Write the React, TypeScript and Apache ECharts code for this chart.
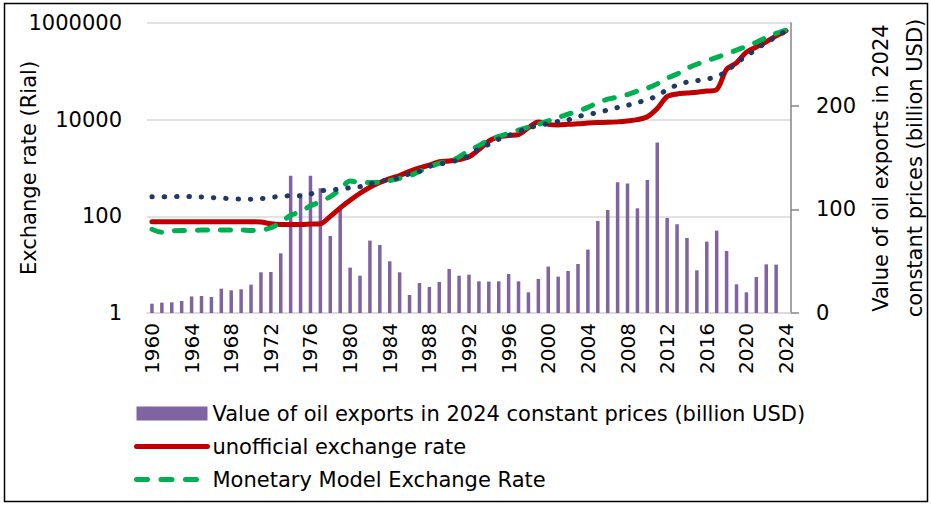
import React, { useEffect, useRef } from "react";
import * as echarts from "echarts";

const years: string[] = [];
for (let y = 1960; y <= 2024; y++) years.push(String(y));

const oilExports: (number | null)[] = [
  9, 10, 10.3, 11.6, 16, 16.4, 15.5, 23.5, 21.9, 22.9,
  27.4, 39.3, 39.6, 57.6, 132.4, 115.6, 132.4, 120.5, 74.4, 102,
  43.8, 36, 69.9, 65.7, 49.9, 39.3, 17.4, 29, 25.1, 30,
  42.5, 36, 37, 30.6, 30.3, 30.6, 37.7, 30.6, 20, 32.9,
  44.8, 35.1, 40.6, 47.3, 61.2, 88.9, 99.5, 126.2, 125, 101.1,
  128.5, 164.6, 91.8, 85.7, 72.5, 41.2, 68.9, 79.5, 59.9, 27.7,
  20, 34.8, 47, 46.7, null,
];

const unofficialRate: number[] = [
  77, 77, 77, 77, 77, 77, 77, 77, 77, 77,
  77, 76, 70, 68, 68, 68, 69, 70, 100, 150,
  215, 300, 400, 500, 600, 700, 850, 1000, 1150, 1350,
  1400, 1500, 1700, 2400, 3600, 4400, 4700, 4900, 6800, 9000,
  8000, 7800, 8000, 8200, 8500, 8700, 8800, 9000, 9400, 10000,
  11500, 17000, 30000, 34000, 35500, 37000, 39000, 42000, 110000, 150000,
  250000, 320000, 410000, 540000, 690000,
];

const monetaryRate: number[] = [
  54, 47, 50, 51, 51, 52, 52, 52, 52, 52,
  51, 52, 58, 75, 105, 125, 165, 200, 255, 360,
  540, 500, 500, 510, 550, 610, 690, 850, 1050, 1250,
  1350, 1700, 2300, 2900, 3800, 4500, 5200, 6100, 7000, 8000,
  9400, 11000, 13000, 15000, 18000, 22500, 26500, 29500, 33000, 39000,
  45000, 55000, 72000, 88000, 115000, 140000, 165000, 195000, 230000, 275000,
  330000, 400000, 500000, 610000, 720000,
];

const officialRate: number[] = [
  255, 255, 255, 258, 258, 252, 245, 238, 232, 227,
  225, 232, 246, 260, 266, 265, 290, 335, 350, 365,
  390, 410, 470, 530, 570, 630, 760, 850, 1080, 1210,
  1300, 1500, 1800, 2500, 3100, 3950, 4700, 5650, 6700, 7600,
  8300, 9200, 9900, 11600, 12800, 14000, 15800, 17800, 19800, 22500,
  26000, 31000, 42000, 52000, 60000, 64000, 69000, 78000, 100000, 150000,
  205000, 290000, 390000, 520000, 680000,
];

const rightTicks = [0, 100, 200];

const FONT = "DejaVu Sans";

export default function App() {
  const ref = useRef<HTMLDivElement>(null);
  useEffect(() => {
    if (!ref.current) return;
    const chart = echarts.init(ref.current, null, { renderer: "svg" });
    chart.setOption({
      animation: false,
      backgroundColor: "#ffffff",
      textStyle: { fontFamily: FONT },
      graphic: [
        {
          type: "rect",
          shape: { x: 4.5, y: 3.5, width: 923, height: 498 },
          style: { fill: "none", stroke: "#000", lineWidth: 1.5 },
          silent: true,
        },
      ],
      grid: {
        left: 147,
        right: 140,
        top: 23,
        bottom: 193,
        containLabel: false,
        outerBoundsMode: "none",
      },
      legend: {
        orient: "vertical",
        left: 134,
        top: 403,
        padding: 0,
        itemWidth: 71,
        itemHeight: 14,
        itemGap: 12,
        textStyle: { fontFamily: FONT, fontSize: 21, color: "#000", lineHeight: 21 },
        data: [
          { name: "Value of oil exports in 2024 constant prices (billion USD)", icon: "rect" },
          {
            name: "unofficial exchange rate",
            itemStyle: { opacity: 0 },
            lineStyle: { width: 5, cap: "round" },
          },
          {
            name: "Monetary Model Exchange Rate",
            itemStyle: { opacity: 0 },
            lineStyle: { width: 5, cap: "round", type: [11, 13.5] },
          },
        ],
      },
      xAxis: {
        type: "category",
        data: years,
        boundaryGap: true,
        axisLine: { show: true, lineStyle: { color: "#d9d9d9", width: 1.5 } },
        axisTick: { show: false },
        axisLabel: {
          interval: 3,
          rotate: 90,
          margin: 10,
          fontFamily: FONT,
          fontSize: 20,
          color: "#000",
        },
        splitLine: { show: false },
      },
      yAxis: [
        {
          type: "log",
          logBase: 10,
          min: 1,
          max: 1000000,
          interval: 2,
          position: "left",
          name: "Exchange rate (Rial)",
          nameLocation: "middle",
          nameGap: 108,
          nameMoveOverlap: false,
          nameTextStyle: { fontFamily: FONT, fontSize: 21, color: "#000" },
          axisLine: { show: false },
          axisTick: { show: false },
          axisLabel: {
            margin: 25,
            fontFamily: FONT,
            fontSize: 21,
            color: "#000",
            formatter: (v: number) => String(Math.round(v)),
          },
          splitLine: { show: true, lineStyle: { color: "#d9d9d9", width: 1.5 } },
        },
        {
          type: "value",
          min: 0,
          max: 280,
          interval: 100,
          position: "right",
          name: "Value of oil exports in 2024\nconstant prices (billion USD)",
          nameLocation: "middle",
          nameRotate: 90,
          nameGap: 73,
          nameMoveOverlap: false,
          nameTextStyle: { fontFamily: FONT, fontSize: 21, color: "#000", lineHeight: 34 },
          axisLine: { show: true, lineStyle: { color: "#868686", width: 1.5 } },
          axisTick: {
            show: true,
            inside: false,
            length: 8,
            lineStyle: { color: "#868686", width: 1.5 },
            customValues: rightTicks,
          },
          axisLabel: {
            margin: 25,
            fontFamily: FONT,
            fontSize: 21,
            color: "#000",
            customValues: rightTicks,
          },
          splitLine: { show: false },
        },
      ],
      series: [
        {
          name: "Value of oil exports in 2024 constant prices (billion USD)",
          type: "bar",
          yAxisIndex: 1,
          data: oilExports,
          barWidth: 3.5,
          itemStyle: { color: "#8064A2" },
          z: 1,
        },
        {
          name: "unofficial exchange rate",
          type: "line",
          yAxisIndex: 0,
          data: unofficialRate,
          smooth: 0.3,
          showSymbol: false,
          symbol: "none",
          lineStyle: { color: "#C00000", width: 5, cap: "round", join: "round" },
          itemStyle: { color: "#C00000" },
          z: 2,
        },
        {
          name: "Monetary Model Exchange Rate",
          type: "line",
          yAxisIndex: 0,
          data: monetaryRate,
          smooth: 0.3,
          showSymbol: false,
          symbol: "none",
          lineStyle: { color: "#00B050", width: 5, type: [10, 13], cap: "round", join: "round" },
          itemStyle: { color: "#00B050" },
          z: 3,
        },
        {
          name: "official exchange rate",
          type: "line",
          yAxisIndex: 0,
          data: officialRate,
          smooth: 0.3,
          showSymbol: false,
          symbol: "none",
          lineStyle: { color: "#203864", width: 5, type: [0.5, 11.8], cap: "round", join: "round" },
          itemStyle: { color: "#203864" },
          z: 4,
        },
      ],
    });
    return () => chart.dispose();
  }, []);
  return (
    <div
      ref={ref}
      style={{ position: "absolute", left: 0, top: 0, width: 931, height: 506 }}
    />
  );
}
